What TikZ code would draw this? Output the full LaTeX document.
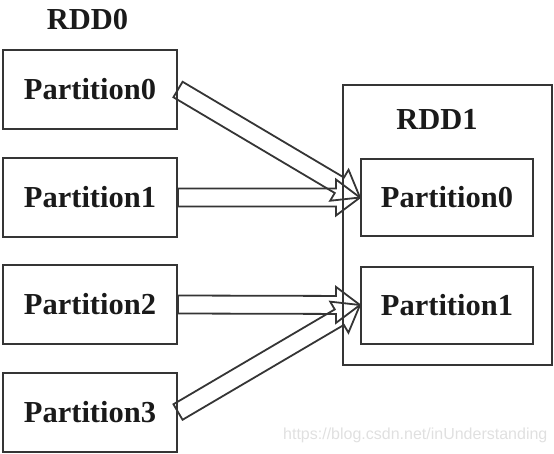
\documentclass[tikz,border=0pt]{standalone}
\usepackage{fontspec}
\setmainfont{Liberation Serif}
\newfontfamily\wmfont{Liberation Sans}
\usetikzlibrary{calc}
\definecolor{lineclr}{HTML}{353535}
\definecolor{txtclr}{HTML}{1A1A1A}
\tikzset{
  pbox/.style={draw=lineclr, line width=2pt, rectangle, inner sep=0pt,
    minimum width=174pt, minimum height=79pt, text=txtclr,
    font=\bfseries\fontsize{30.5}{36}\selectfont},
  ibox/.style={pbox, minimum width=172pt, minimum height=77pt},
  outerbox/.style={draw=lineclr, line width=2pt, rectangle, inner sep=0pt},
  lbl/.style={text=txtclr, inner sep=0pt, font=\bfseries\fontsize{30.5}{36}\selectfont},
  hollow/.style={draw=lineclr, line width=1.8pt, line join=miter},
  wm/.style={text=black!12, inner sep=0pt, font=\wmfont\fontsize{16}{18}\selectfont}
}
\newcommand\harrow[2]{%
  \path (#1) coordinate (hA) (#2) coordinate (hB) ($(hB)!24pt!(hA)$) coordinate (hP);
  \draw[hollow] ($(hA)!9pt!90:(hB)$) -- ($(hP)!9pt!90:(hB)$) -- ($(hP)!18pt!90:(hB)$)
    -- (hB) -- ($(hP)!18pt!-90:(hB)$) -- ($(hP)!9pt!-90:(hB)$) -- ($(hA)!9pt!-90:(hB)$) -- cycle;
}
\begin{document}
\begin{tikzpicture}[x=1pt, y=-1pt]
  \useasboundingbox (0,0) rectangle (554,453);
  % RDD0
  \node[lbl] (rdd0) at (87.5,20) {RDD0};
  \node[pbox] (p0) at (90,89.5) {Partition0};
  \node[pbox] (p1) at (90,197.5) {Partition1};
  \node[pbox] (p2) at (90,304.5) {Partition2};
  \node[pbox] (p3) at (90,412) {Partition3};
  % RDD1
  \node[outerbox, minimum width=209pt, minimum height=280pt] (rdd1box) at (447.5,225) {};
  \node[lbl] (rdd1) at (437,119) {RDD1};
  \node[ibox] (q0) at (447,197.5) {Partition0};
  \node[ibox] (q1) at (447,305) {Partition1};
  % arrows
  \harrow{p0.east}{q0.west}
  \harrow{p1.east}{q0.west}
  \harrow{p2.east}{q1.west}
  \harrow{p3.east}{q1.west}
  % watermark
  \node[wm, anchor=west] (wmark) at (283,435) {https://blog.csdn.net/inUnderstanding};
\end{tikzpicture}
\end{document}
